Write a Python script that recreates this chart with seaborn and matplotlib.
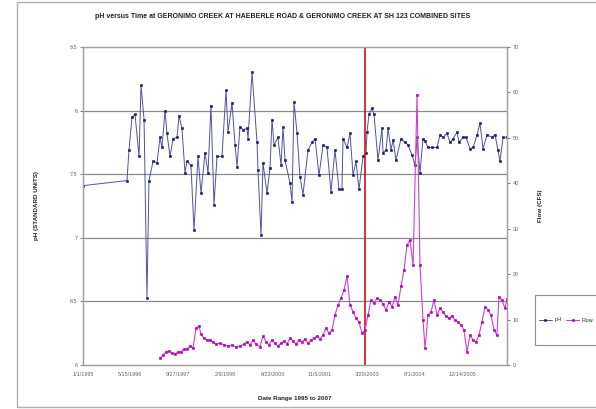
import numpy as np
import pandas as pd
import matplotlib
matplotlib.use("Agg")
import matplotlib.pyplot as plt
from matplotlib.patches import Rectangle
import seaborn as sns

# ---------------- data ----------------
start_date = "1995-01-01"
ph_day = [0, 464, 485, 517, 549, 591, 612, 644, 675, 696, 739, 781, 812, 833, 865, 886,
          918, 950, 992, 1013, 1044, 1076, 1097, 1139, 1171, 1213, 1245, 1287, 1319, 1350,
          1382, 1414, 1466, 1509, 1530, 1572, 1604, 1625, 1656, 1688, 1730, 1741, 1783,
          1836, 1846, 1878, 1899, 1941, 1973, 1994, 2015, 2057, 2089, 2110, 2131, 2184,
          2205, 2226, 2258, 2289, 2321, 2374, 2416, 2448, 2490, 2532, 2574, 2616, 2658,
          2701, 2732, 2743, 2785, 2817, 2849, 2880, 2912, 2954, 2986, 2996, 3017, 3049,
          3070, 3112, 3154, 3165, 3197, 3218, 3249, 3271, 3302, 3355, 3397, 3429, 3471,
          3503, 3524, 3555, 3587, 3608, 3640, 3682, 3735, 3766, 3798, 3840, 3872, 3904,
          3946, 3967, 4009, 4041, 4083, 4115, 4157, 4188, 4220, 4262, 4315, 4347, 4378,
          4399, 4431, 4473]
ph_val = [7.41, 7.45, 7.69, 7.95, 7.97, 7.64, 8.20, 7.93, 6.53, 7.45, 7.60, 7.59, 7.79,
          7.71, 8.00, 7.82, 7.64, 7.78, 7.79, 7.96, 7.86, 7.51, 7.60, 7.57, 7.06, 7.64,
          7.35, 7.67, 7.51, 8.04, 7.26, 7.64, 7.64, 8.16, 7.83, 8.06, 7.73, 7.56, 7.87,
          7.85, 7.86, 7.78, 8.30, 7.75, 7.53, 7.02, 7.59, 7.35, 7.55, 7.93, 7.73, 7.79,
          7.57, 7.87, 7.61, 7.43, 7.28, 8.07, 7.82, 7.48, 7.34, 7.69, 7.75, 7.78, 7.49,
          7.73, 7.71, 7.36, 7.69, 7.38, 7.38, 7.78, 7.71, 7.82, 7.49, 7.60, 7.38, 7.64,
          7.67, 7.83, 7.97, 8.02, 7.97, 7.61, 7.86, 7.67, 7.69, 7.86, 7.69, 7.77, 7.61,
          7.78, 7.75, 7.73, 7.65, 7.57, 7.79, 7.51, 7.78, 7.76, 7.71, 7.71, 7.71, 7.81,
          7.79, 7.82, 7.75, 7.78, 7.83, 7.75, 7.79, 7.79, 7.70, 7.71, 7.81, 7.90, 7.70,
          7.81, 7.79, 7.81, 7.69, 7.60, 7.79, 7.79]

flow_day = [812, 844, 876, 907, 939, 971, 1002, 1034, 1066, 1097, 1129, 1161, 1192, 1224,
            1245, 1277, 1308, 1340, 1372, 1403, 1445, 1488, 1530, 1572, 1614, 1656, 1699,
            1730, 1762, 1794, 1825, 1867, 1899, 1931, 1962, 1994, 2026, 2057, 2089, 2121,
            2152, 2184, 2215, 2247, 2279, 2310, 2342, 2374, 2405, 2437, 2469, 2500, 2532,
            2564, 2595, 2627, 2658, 2690, 2722, 2754, 2785, 2817, 2849, 2880, 2912, 2943,
            2975, 3007, 3038, 3070, 3102, 3133, 3165, 3197, 3228, 3260, 3292, 3323, 3355,
            3387, 3418, 3450, 3482, 3524, 3555, 3587, 3608, 3640, 3671, 3703, 3735, 3766,
            3798, 3829, 3861, 3893, 3924, 3956, 3988, 4019, 4051, 4083, 4115, 4146, 4178,
            4209, 4241, 4273, 4304, 4336, 4367, 4388, 4420, 4452, 4473]
flow_val = [1.5, 2.2, 2.9, 3.1, 2.6, 2.4, 2.9, 2.9, 3.5, 3.5, 4.2, 3.7, 8.1, 8.6, 6.8, 5.9,
            5.5, 5.5, 5.1, 4.6, 4.8, 4.4, 4.2, 4.4, 4.0, 4.2, 4.6, 5.1, 4.4, 5.5, 4.6, 4.0,
            6.4, 5.1, 4.4, 5.5, 4.8, 4.2, 4.8, 5.3, 4.6, 5.9, 5.3, 4.6, 5.5, 5.1, 5.7, 4.8,
            5.5, 5.9, 6.4, 5.7, 6.6, 8.1, 7.0, 7.7, 11.0, 13.2, 14.7, 16.5, 19.6, 13.2,
            11.7, 10.3, 9.5, 7.0, 7.7, 11.0, 14.3, 13.6, 14.7, 14.3, 13.4, 12.1, 13.9,
            12.8, 15.0, 13.2, 17.4, 20.9, 26.4, 27.5, 22.0, 59.4, 22.0, 9.9, 3.7, 11.0,
            11.7, 14.3, 11.0, 12.5, 11.7, 10.8, 10.3, 10.8, 9.9, 9.5, 8.8, 7.7, 2.9, 6.6,
            5.5, 5.1, 6.6, 9.5, 12.8, 12.1, 11.0, 7.7, 6.6, 15.0, 14.3, 12.5, 14.5]

xtick_labels = ["1/1/1995", "5/15/1996", "9/27/1997", "2/9/1999", "6/23/2000",
                "11/5/2001", "3/20/2003", "8/1/2004", "12/14/2005"]
x_end = "2007-04-01"
red_line_date = "2003-02-28"
ph_ticks = [6, 6.5, 7, 7.5, 8, 8.5]
flow_ticks = [0, 10, 20, 30, 40, 50, 60, 70]

title = "pH versus Time at GERONIMO CREEK AT HAEBERLE ROAD & GERONIMO CREEK AT SH 123 COMBINED SITES"

# ---------------- build frames ----------------
t0 = pd.Timestamp(start_date)
ph_df = pd.DataFrame({"date": t0 + pd.to_timedelta(ph_day, unit="D"), "pH": ph_val})
flow_df = pd.DataFrame({"date": t0 + pd.to_timedelta(flow_day, unit="D"), "Flow": flow_val})
tick_dates = pd.to_datetime(xtick_labels, format="%m/%d/%Y")

sns.set_theme(style="white")
plt.rcParams["font.family"] = ["Liberation Sans", "DejaVu Sans"]

fig = plt.figure(figsize=(5.96, 4.09), dpi=100)
ax = fig.add_axes([83 / 596, 1 - 365 / 409, 424 / 596, 318 / 409])
ax2 = ax.twinx()

grid_color = "#8a8a8a"

sns.lineplot(data=ph_df, x="date", y="pH", ax=ax, color="#5050a8", lw=0.7,
             marker="s", markersize=2.0, markeredgewidth=0.4, markerfacecolor="#1a1a60",
             markeredgecolor="#1a1a60", label="pH", legend=False)
sns.lineplot(data=flow_df, x="date", y="Flow", ax=ax2, color="#d040d0", lw=0.8,
             marker="s", markersize=2.0, markeredgewidth=0.4, markerfacecolor="#b000b0",
             markeredgecolor="#b000b0", label="Flow", legend=False)

ax.axvline(pd.Timestamp(red_line_date), color="#d01010", lw=1.2, zorder=5)

ax.set_xlim(t0, pd.Timestamp(x_end))
ax.set_ylim(6, 8.5)
ax2.set_ylim(0, 70)
ax.set_yticks(ph_ticks)
ax.set_yticklabels([f"{v:g}" for v in ph_ticks])
ax2.set_yticks(flow_ticks)
ax2.set_yticklabels([str(v) for v in flow_ticks])
ax.set_xticks(tick_dates)
ax.set_xticklabels(xtick_labels)

for yv in ph_ticks[1:-1]:
    ax.axhline(yv, color=grid_color, lw=0.9, zorder=0)

for a in (ax, ax2):
    for s in a.spines.values():
        s.set_color("#a0a0a0")
        s.set_linewidth(0.9)
    a.tick_params(axis="both", labelsize=4, colors="#666666", length=2, width=0.6,
                  pad=2, direction="out")
ax.tick_params(axis="x", labelsize=4, colors="#666666", pad=3)

ax.set_xlabel("Date Range 1995 to 2007", fontsize=4.5, fontweight="bold", color="#222222",
              labelpad=14)
ax.set_ylabel("pH (STANDARD UNITS)", fontsize=4.5, fontweight="bold", color="#222222",
              labelpad=22)
ax2.set_ylabel("Flow (CFS)", fontsize=4.5, fontweight="bold", color="#222222", labelpad=14)

fig.text(283 / 596, 1 - 16 / 409, title, ha="center", va="center", fontsize=5,
         fontweight="bold", color="#222222")

# outer chart border
fig.patches.append(Rectangle((17 / 596, 2 / 409), 1.2, 405 / 409, transform=fig.transFigure,
                             fill=False, edgecolor="#b0b0b0", lw=1.0))

# legend: entries from the plotted lines, with a taller frame like the original
h1, l1 = ax.get_legend_handles_labels()
h2, l2 = ax2.get_legend_handles_labels()
fig.legend(h1 + h2, l1 + l2, loc="center left", bbox_to_anchor=(537 / 596, 1 - 320 / 409),
           ncol=2, fontsize=4, frameon=False, handlelength=2.4, borderpad=0.3,
           borderaxespad=0, columnspacing=0.8, handletextpad=0.4)
fig.patches.append(Rectangle((535 / 596, 1 - 345 / 409), 1.0, 50 / 409,
                             transform=fig.transFigure, fill=False, edgecolor="#909090",
                             lw=0.8))

fig.savefig("out.png", dpi=100)
